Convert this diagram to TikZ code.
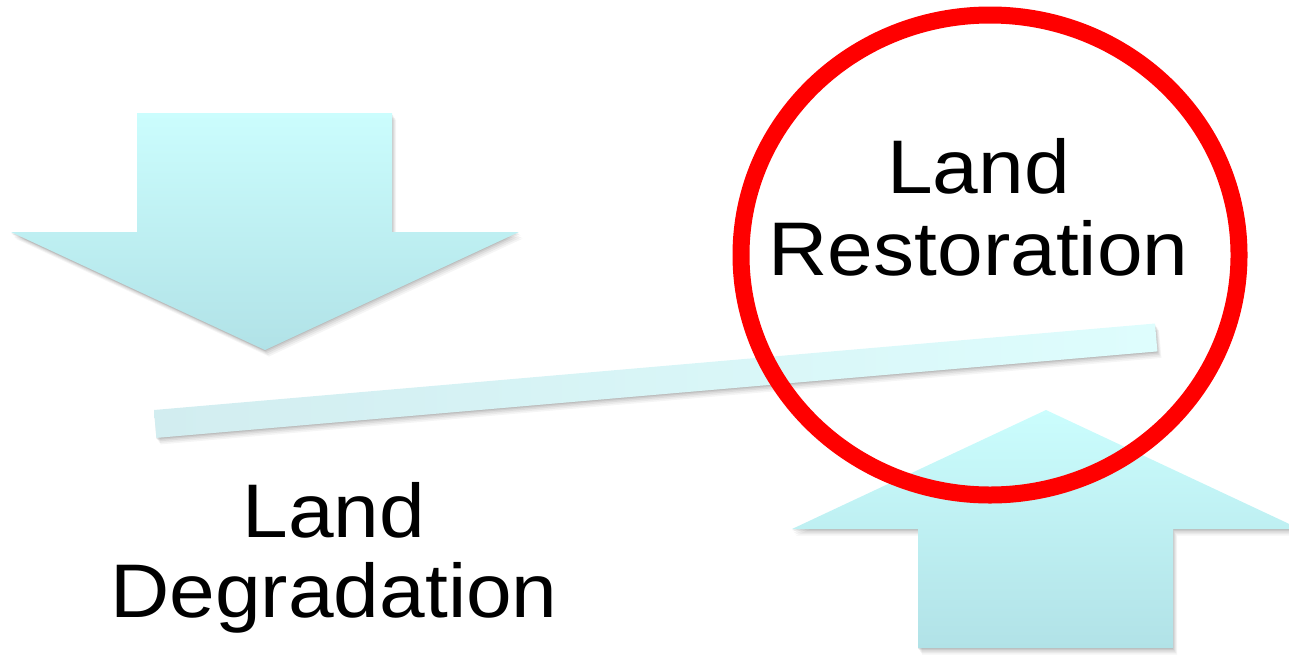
\documentclass[tikz,border=0pt]{standalone}
\usepackage{fontspec}
\newfontfamily\lblfont[FakeStretch=1.08]{Liberation Sans}
\definecolor{arrtop}{HTML}{CBFDFD}
\definecolor{arrbot}{HTML}{B1E2E7}
\definecolor{barleft}{HTML}{D2EDF0}
\definecolor{barright}{HTML}{DEFDFD}
\definecolor{ringred}{HTML}{FF0000}
\begin{document}
\begin{tikzpicture}[x=1pt,y=-1pt,
  lbl/.style={font=\lblfont\fontsize{76}{81}\selectfont, inner sep=0pt, anchor=base, text=black},
  arrowfill/.style={top color=arrtop, bottom color=arrbot, draw=none},
  barfill/.style={left color=barleft, right color=barright, draw=none},
  ring/.style={draw=ringred, line width=17pt},
  shadowlayer/.style={fill=black, draw=none},
]
\useasboundingbox (0,0) rectangle (1289,656);

% shadows
\foreach \dx/\dy/\op in {0/1/0.07, 1/2/0.07, 2/3.5/0.06, 3/5/0.05, 4/6.5/0.04}{
  \fill[shadowlayer, opacity=\op, shift={(\dx,\dy)}]
    (137,113) -- (392,113) -- (392,232) -- (519,232) -- (265,350) -- (11,232) -- (137,232) -- cycle;
  \fill[shadowlayer, opacity=\op, shift={(\dx,\dy)}]
    (1046,410) -- (1300,529) -- (1173,529) -- (1173,648) -- (918,648) -- (918,529) -- (792,529) -- cycle;
  \fill[shadowlayer, opacity=\op, shift={(\dx,\dy)}]
    (154,410) -- (1155,323.5) -- (1157.4,351.4) -- (156.4,437.9) -- cycle;
}

% down arrow (degradation)
\path[arrowfill] (137,113) -- (392,113) -- (392,232) -- (519,232) -- (265,350) -- (11,232) -- (137,232) -- cycle;

% up arrow (restoration)
\path[arrowfill] (1046,410) -- (1300,529) -- (1173,529) -- (1173,648) -- (918,648) -- (918,529) -- (792,529) -- cycle;

% tilted bar
\path[barfill] (154,410) -- (1155,323.5) -- (1157.4,351.4) -- (156.4,437.9) -- cycle;

% red ring
\draw[ring] (990,255) ellipse [x radius=249pt, y radius=240pt];

% labels
\node[lbl] (landR) at (978.5,193) {Land};
\node[lbl] (rest)  at (978.5,275) {Restoration};
\node[lbl] (landD) at (334,537) {Land};
\node[lbl] (degr)  at (334,617) {Degradation};
\end{tikzpicture}
\end{document}
